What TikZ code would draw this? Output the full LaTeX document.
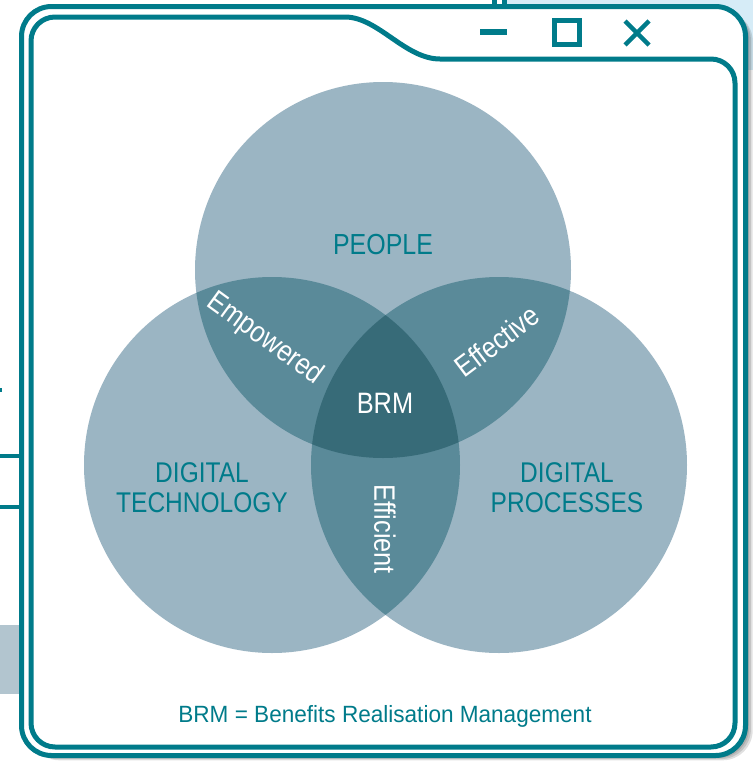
\documentclass[tikz,border=0pt]{standalone}
\usepackage{fontspec}
\setmainfont{Liberation Sans}
\newfontfamily\condfont{Liberation Sans}[FakeStretch=0.86]
\newfontfamily\legendfont{Liberation Sans}[FakeStretch=0.96]
\definecolor{tealA}{HTML}{007B8A}
\definecolor{circL}{HTML}{9BB5C3}
\definecolor{circM}{HTML}{5A8A99}
\definecolor{circD}{HTML}{376B78}
\definecolor{skyb}{HTML}{D6ECF7}
\definecolor{sidebox}{HTML}{B2C5CF}
\begin{document}
\begin{tikzpicture}[x=1pt,y=-1pt,
  frameline/.style={draw=tealA,line width=5pt},
  setlabel/.style={text=tealA,font=\condfont\fontsize{28.5}{30}\selectfont,align=center,inner sep=0pt},
  zonelabel/.style={text=white,font=\condfont\fontsize{29.5}{30}\selectfont,inner sep=0pt},
  btn/.style={draw=tealA,line width=4.5pt}]
\useasboundingbox (0,0) rectangle (753,761);
\fill[white] (0,0) rectangle (753,761);
% background artefacts
\fill[skyb] (505,0) rectangle (753,70);
\fill[sidebox] (0,625) rectangle (20,694);
\fill[tealA] (0,453.5) rectangle (20,457.5);
\fill[tealA] (0,505) rectangle (20,509);
\fill[tealA] (0,388) rectangle (1.5,392);
\fill[tealA] (492,0) rectangle (497,8);
\fill[tealA] (502,0) rectangle (507,8);
% shadow
\foreach \o in {2,4,6,8}
  \fill[black,opacity=0.12,rounded corners=30pt] (21.5+\o,6.5+\o*0.6) rectangle (745.5+\o*0.9,755.5+\o*0.6);
\fill[white,rounded corners=30pt] (21.5,6.5) rectangle (745.5,755.5);
% frames
\draw[frameline,rounded corners=30pt] (21.5,6.5) rectangle (745.5,755.5);
\draw[frameline] (31,723) -- (31,41) .. controls (31,27.7) and (41.7,17) .. (55,17)
  -- (345,17) .. controls (378,17) and (405,59) .. (440,59)
  -- (711,59) .. controls (724.3,59) and (735,69.7) .. (735,83)
  -- (735,723) .. controls (735,736.3) and (724.3,747) .. (711,747)
  -- (55,747) .. controls (41.7,747) and (31,736.3) .. (31,723) -- cycle;
% window buttons
\draw[tealA,line width=5.5pt] (480,32) -- (507,32);
\draw[btn] (554.5,20.5) rectangle (579.5,44.5);
\draw[btn] (625,21) -- (649,45) (625,45) -- (649,21);
% circles
\coordinate (T) at (383,270);
\coordinate (L) at (272,465);
\coordinate (R) at (499,465);
\fill[circL] (T) circle (188pt);
\fill[circL] (L) circle (188pt);
\fill[circL] (R) circle (188pt);
\begin{scope}
  \clip (T) circle (188pt);
  \fill[circM] (L) circle (188pt);
  \fill[circM] (R) circle (188pt);
\end{scope}
\begin{scope}
  \clip (L) circle (188pt);
  \fill[circM] (R) circle (188pt);
\end{scope}
\begin{scope}
  \clip (T) circle (188pt);
  \clip (L) circle (188pt);
  \fill[circD] (R) circle (188pt);
\end{scope}
% labels
\node[setlabel,anchor=base,font=\condfont\fontsize{29}{30}\selectfont] (people) at (383,254) {PEOPLE};
\node[setlabel] (tech) at (202,488) {DIGITAL\\TECHNOLOGY};
\node[setlabel] (proc) at (567,488) {DIGITAL\\PROCESSES};
\node[zonelabel,anchor=base] (brm) at (385,413) {BRM};
\node[zonelabel,rotate=-36] (empowered) at (265,339) {Empowered};
\node[zonelabel,rotate=37] (effective) at (497,341) {Effective};
\node[zonelabel,rotate=-90] (efficient) at (385,529) {Efficient};
\node[text=tealA,font=\legendfont\fontsize{23.5}{26}\selectfont,anchor=base,inner sep=0pt] (legend) at (385,722) {BRM = Benefits Realisation Management};
\end{tikzpicture}
\end{document}
